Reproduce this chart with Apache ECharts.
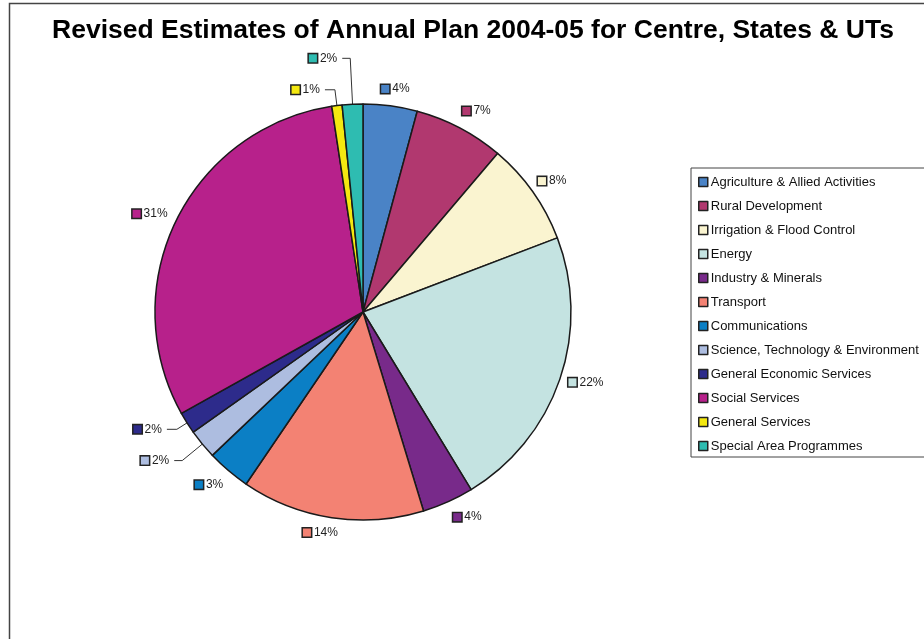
<!DOCTYPE html>
<html>
<head>
<meta charset="utf-8">
<script src="https://cdn.jsdelivr.net/npm/echarts@6/dist/echarts.min.js"></script>
<style>
  html, body { margin: 0; padding: 0; background: #fff; }
  #main { width: 924px; height: 639px; }
</style>
</head>
<body>
<div id="main"></div>
<script>
// 数据
var titleText = 'Revised Estimates of Annual Plan 2004-05 for Centre, States & UTs';
var sectors = [
  'Agriculture & Allied Activities',
  'Rural Development',
  'Irrigation & Flood Control',
  'Energy',
  'Industry & Minerals',
  'Transport',
  'Communications',
  'Science, Technology & Environment',
  'General Economic Services',
  'Social Services',
  'General Services',
  'Special Area Programmes'
];
// share of outlay (%)
var shares = [4.2, 7.0, 8.0, 22.1, 4.0, 14.2, 3.4, 2.3, 1.7, 30.7, 0.8, 1.6];
var colors = [
  '#4a83c6', '#b1386f', '#faf4d0', '#c4e3e1', '#782a8a', '#f38273',
  '#0b7fc5', '#adbde0', '#2d2b8b', '#b7218b', '#f4e810', '#2ebcb1'
];
// which labels get a leader line
var withLine = [false, false, false, false, false, false, false, true, true, false, true, true];

var chart = echarts.init(document.getElementById('main'), null, { renderer: 'canvas' });

var rich = {
  t: { fontSize: 12, color: '#222', padding: [0, 0, 0, 3], fontFamily: 'Liberation Sans, Arial, sans-serif' }
};
for (var i = 0; i < colors.length; i++) {
  rich['s' + i] = {
    width: 8, height: 8,
    backgroundColor: colors[i],
    borderColor: '#222', borderWidth: 1.5
  };
}

// 每块的标签线长度
var lineLen = [14, 10, 10, 6, 8, 12, 8, 26, 12, 4, 16, 46];
var lineLen2 = [0, 0, 0, 0, 0, 0, 0, 8, 10, 0, 10, 8];
// small label nudges (px) so the labels sit like the original
var nudgeX = [-16, -7, -8, -2, -3, 13, 5, 0, -5, 0, -5, -2];
var nudgeY = [-3, -8, -5, 1, 8, 3, 8, 0, 0, -5, 1, 2];

var pieData = [];
for (var k = 0; k < sectors.length; k++) {
  pieData.push({
    name: sectors[k],
    value: shares[k],
    itemStyle: { color: colors[k] },
    labelLine: {
      show: withLine[k],
      length: lineLen[k],
      length2: lineLen2[k]
    }
  });
}

var option = {
  animation: false,
  title: {
    text: titleText,
    left: 468,
    top: 12,
    textAlign: 'center',
    textStyle: {
      fontFamily: 'Liberation Sans, Arial, sans-serif',
      fontWeight: 'bold',
      fontSize: 26.5,
      color: '#000'
    }
  },
  graphic: [{
    type: 'rect',
    shape: { x: 9.5, y: 3.5, width: 940, height: 660 },
    style: { fill: 'none', stroke: '#444', lineWidth: 1.5 },
    silent: true
  }],
  legend: {
    orient: 'vertical',
    left: 691,
    top: 168,
    padding: [7, 20, 4, 7],
    itemGap: 10,
    itemWidth: 9,
    itemHeight: 9,
    icon: 'rect',
    borderColor: '#444',
    borderWidth: 1,
    itemStyle: { borderColor: '#222', borderWidth: 1.5 },
    textStyle: {
      fontFamily: 'Liberation Sans, Arial, sans-serif',
      fontSize: 13,
      lineHeight: 14,
      color: '#111',
      padding: [0, 0, 0, -2]
    },
    data: sectors
  },
  series: [{
    type: 'pie',
    center: [363, 312],
    radius: 208,
    startAngle: 90,
    clockwise: true,
    percentPrecision: 0,
    avoidLabelOverlap: false,
    itemStyle: { borderColor: '#1a1a1a', borderWidth: 1.5 },
    emphasis: { disabled: true },
    label: {
      position: 'outside',
      formatter: function (p) {
        return '{s' + p.dataIndex + '|}{t|' + p.percent + '%}';
      },
      rich: rich
    },
    labelLine: {
      lineStyle: { color: '#333', width: 1 }
    },
    labelLayout: function (p) {
      if (withLine[p.dataIndex]) return {};
      return { dx: nudgeX[p.dataIndex], dy: nudgeY[p.dataIndex] };
    },
    data: pieData
  }]
};

chart.setOption(option);
</script>
</body>
</html>
